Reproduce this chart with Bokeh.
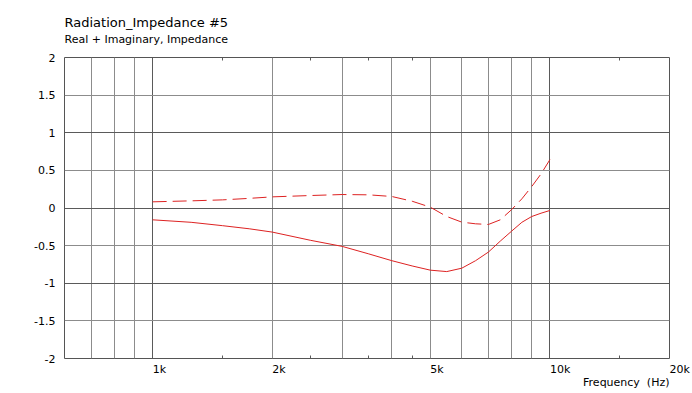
from bokeh.plotting import figure
from bokeh.models import (LogAxis, LinearAxis, FixedTicker, Grid, Label,
                          ColumnDataSource)
from bokeh.embed import file_html
from bokeh.resources import INLINE

# ---- data ----
freq_hz = [1000, 1250, 1500, 1750, 2000, 2500, 3000, 3500, 4000, 4500, 5000,
           5500, 6000, 6500, 7000, 7500, 8000, 8500, 9000, 9500, 10000]
real_part = [-0.157, -0.19, -0.235, -0.276, -0.32, -0.43, -0.51, -0.61, -0.70,
             -0.77, -0.826, -0.845, -0.80, -0.70, -0.586, -0.44, -0.31, -0.19,
             -0.113, -0.069, -0.033]
imag_part = [0.082, 0.095, 0.108, 0.128, 0.148, 0.166, 0.179, 0.175, 0.153,
             0.09, 0.011, -0.113, -0.188, -0.21, -0.219, -0.157, -0.024, 0.122,
             0.285, 0.453, 0.643]

x_major_ticks = [1000, 2000, 5000, 10000, 20000]
x_major_labels = ["1k", "2k", "5k", "10k", "20k"]
x_minor_ticks = [1500, 2500, 3500, 4500, 15000]
x_grid_light = [700, 800, 900, 2000, 3000, 4000, 5000, 6000, 7000, 8000, 9000]
x_grid_dark = [1000, 10000]
y_ticks = [-2, -1.5, -1, -0.5, 0, 0.5, 1, 1.5, 2]
y_labels = ["-2", "-1.5", "-1", "-0.5", "0", "0.5", "1", "1.5", "2"]
y_grid_light = [-1.5, -0.5, 0.5, 1.5]
y_grid_dark = [-1, 0, 1]

title_text = "Radiation_Impedance #5"
subtitle_text = "Real + Imaginary, Impedance"
x_label_text = "Frequency\u00a0 (Hz)"

FONT = "DejaVu Sans"
RED = "#dd2222"
LIGHT = "#8c8c8c"
DARK = "#5a5a5a"
X_MIN, X_MAX = 600, 20000
Y_MIN, Y_MAX = -2, 2

p = figure(x_axis_type="log", x_range=(X_MIN, X_MAX), y_range=(Y_MIN, Y_MAX),
           x_axis_location=None, y_axis_location=None,
           output_backend="svg", toolbar_location=None, title=None,
           frame_width=605, frame_height=301,
           min_border_left=64, min_border_right=22,
           min_border_top=57, min_border_bottom=34)
p.center = []  # drop the default (hidden-axis) grids
p.background_fill_color = "white"
p.border_fill_color = "white"
p.outline_line_color = "#555555"
p.outline_line_width = 1

# grids
p.add_layout(Grid(dimension=0, ticker=FixedTicker(ticks=x_grid_light),
                  grid_line_color=LIGHT, grid_line_width=1))
p.add_layout(Grid(dimension=0, ticker=FixedTicker(ticks=x_grid_dark),
                  grid_line_color=DARK, grid_line_width=1))
p.add_layout(Grid(dimension=1, ticker=FixedTicker(ticks=y_grid_light),
                  grid_line_color=LIGHT, grid_line_width=1))
p.add_layout(Grid(dimension=1, ticker=FixedTicker(ticks=y_grid_dark),
                  grid_line_color=DARK, grid_line_width=1))

# x axes: tick marks only (labels are drawn left-aligned below)
for loc in ("below", "above"):
    ax = LogAxis(ticker=FixedTicker(ticks=x_major_ticks, minor_ticks=x_minor_ticks),
                 axis_line_color=None, major_tick_in=0, major_tick_out=0,
                 minor_tick_in=3, minor_tick_out=0, minor_tick_line_color=DARK,
                 major_label_standoff=0, major_label_text_font_size="0px",
                 major_label_text_color=None)
    p.add_layout(ax, loc)

yl = LinearAxis(ticker=FixedTicker(ticks=y_ticks),
                major_label_overrides=dict(zip(y_ticks, y_labels)),
                axis_line_color=None, major_tick_in=0, major_tick_out=0,
                minor_tick_in=0, minor_tick_out=0,
                major_label_standoff=9, major_label_text_font=FONT,
                major_label_text_font_size="11px", major_label_text_color="black")
p.add_layout(yl, "left")

# x tick labels, left-aligned at their tick (side panel: not clipped)
for t, lab in zip(x_major_ticks, x_major_labels):
    p.add_layout(Label(x=t, y=Y_MIN, y_offset=-11, text=lab,
                       text_font=FONT, text_font_size="11px", text_color="black",
                       text_align="left", text_baseline="alphabetic"), "below")

# x axis caption at the lower right
p.add_layout(Label(x=X_MAX, y=Y_MIN, y_offset=-24, text=x_label_text,
                   text_font=FONT, text_font_size="11px", text_color="black",
                   text_align="right", text_baseline="alphabetic"), "below")

# title and subtitle, left-aligned with the frame
p.add_layout(Label(x=X_MIN, y=Y_MAX, y_offset=35, text=title_text,
                   text_font=FONT, text_font_size="13px", text_color="black",
                   text_align="left", text_baseline="alphabetic"), "above")
p.add_layout(Label(x=X_MIN, y=Y_MAX, y_offset=18, text=subtitle_text,
                   text_font=FONT, text_font_size="11px", text_color="black",
                   text_align="left", text_baseline="alphabetic"), "above")

src = ColumnDataSource(dict(f=freq_hz, re=real_part, im=imag_part))
p.line("f", "re", source=src, line_color=RED, line_width=1)
p.line("f", "im", source=src, line_color=RED, line_width=1, line_dash="14 6")

open("out.html", "w").write(file_html(p, INLINE))
